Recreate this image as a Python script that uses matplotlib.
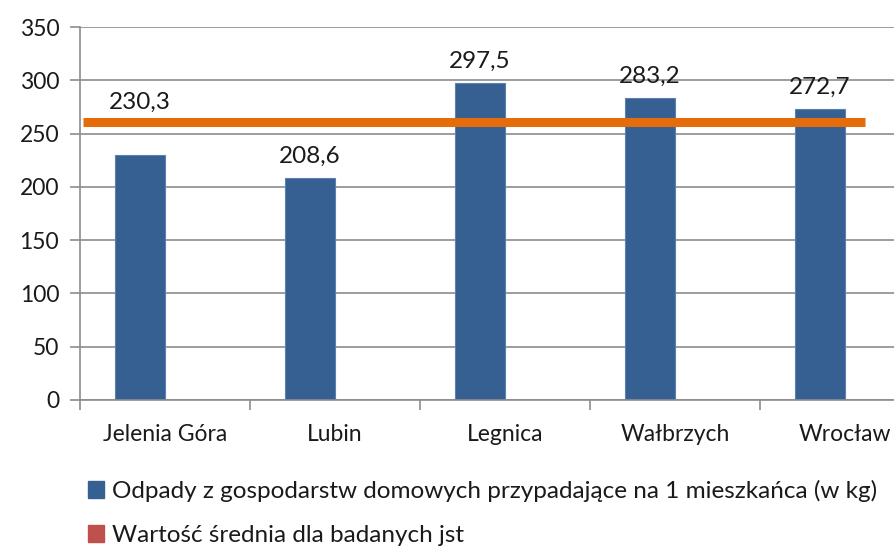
import matplotlib.pyplot as plt
from matplotlib.patches import Patch

plt.rcParams['font.family'] = ['Lato', 'DejaVu Sans']

cities = ["Jelenia Góra", "Lubin", "Legnica", "Wałbrzych", "Wrocław"]
waste = [230.3, 208.6, 297.5, 283.2, 272.7]
labels = ["230,3", "208,6", "297,5", "283,2", "272,7"]
label_offsets = [30, 8, 8, 8, 8]  # points above bar top; first label sits higher in the original
average = 261
yticks = [0, 50, 100, 150, 200, 250, 300, 350]

bar_color = "#376092"
line_color = "#E46C0A"
grid_color = "#8C8C8C"
bar_w = 0.295

fig = plt.figure(figsize=(8.95, 5.48), dpi=100)
ax = fig.add_axes([80 / 895, 1 - 400 / 548, 850 / 895, 373 / 548])

# bars sit in the left half of each category slot (second slot left empty, as in the original)
xpos = [i - bar_w / 2 for i in range(len(cities))]
ax.bar(xpos, waste, width=bar_w, color=bar_color, edgecolor="#5B80B2", linewidth=0.8, zorder=2)
ax.hlines(average, -0.48, 4.12, color=line_color, linewidth=6.5, zorder=3)

for i, (v, t) in enumerate(zip(waste, labels)):
    ax.annotate(t, (xpos[i], v), xytext=(0, label_offsets[i]), textcoords="offset points",
                ha="center", va="bottom", fontsize=17.5, color="#1a1a1a", zorder=4)

ax.set_xlim(-0.5, 4.5)
ax.set_ylim(0, 350)
ax.set_yticks(yticks)
ax.set_yticklabels([str(t) for t in yticks])
ax.yaxis.grid(True, color=grid_color, linewidth=1.2, zorder=0)
ax.set_axisbelow(True)

ax.set_xticks([i + 0.5 for i in range(-1, len(cities))], minor=False)
ax.set_xticklabels([""] * (len(cities) + 1))
ax.set_xticks(list(range(len(cities))), minor=True)
ax.set_xticklabels(cities, minor=True)
ax.tick_params(axis="x", which="minor", length=0, pad=17, labelsize=16.5, labelcolor="#1a1a1a")
ax.tick_params(axis="x", which="major", length=7, color=grid_color, width=1.2)
ax.tick_params(axis="y", length=7, color=grid_color, width=1.2, labelsize=16.5, labelcolor="#1a1a1a", pad=8)

for s in ["top", "right"]:
    ax.spines[s].set_visible(False)
for s in ["left", "bottom"]:
    ax.spines[s].set_color(grid_color)
    ax.spines[s].set_linewidth(1.2)

handles = [Patch(color=bar_color), Patch(color="#C0504D")]
names = ["Odpady z gospodarstw domowych przypadające na 1 mieszkańca (w kg)",
         "Wartość średnia dla badanych jst"]
fig.legend(handles, names, loc="upper left", bbox_to_anchor=(66 / 895, 1 - 458 / 548),
           frameon=False, fontsize=17.5, handlelength=0.65, handleheight=0.65,
           handletextpad=0.35, labelspacing=0.95, labelcolor="#1a1a1a")

fig.savefig("out.png", dpi=100)
